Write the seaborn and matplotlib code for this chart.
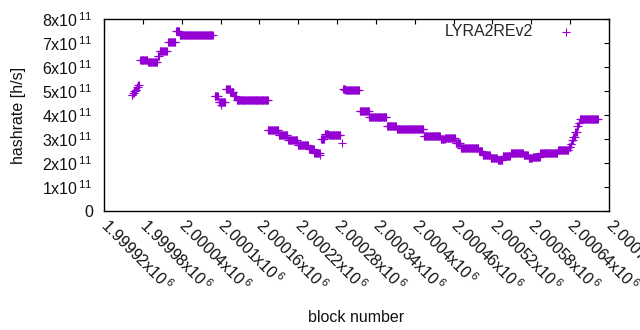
import numpy as np
import pandas as pd
import matplotlib
matplotlib.use('Agg')
import matplotlib.pyplot as plt
import seaborn as sns

run_start = [1999963, 1999965, 1999967, 1999969, 1999971, 1999973,
             1999976, 1999988, 2000003, 2000006, 2000019, 2000031, 2000037,
             2000091, 2000097, 2000100, 2000108, 2000115, 2000121, 2000125,
             2000173, 2000190, 2000204, 2000219, 2000236, 2000245, 2000254,
             2000255, 2000261, 2000267, 2000288, 2000289, 2000293, 2000315,
             2000330, 2000357, 2000372, 2000414, 2000440, 2000447, 2000463,
             2000471, 2000499, 2000505, 2000517, 2000528, 2000536, 2000548,
             2000568, 2000576, 2000582, 2000594, 2000621, 2000638, 2000641,
             2000643, 2000645, 2000648, 2000651, 2000653, 2000655]
run_end = [1999964, 1999966, 1999968, 1999970, 1999972, 1999974,
           1999987, 2000002, 2000005, 2000017, 2000030, 2000036, 2000088,
           2000096, 2000107, 2000100, 2000114, 2000120, 2000124, 2000173,
           2000189, 2000203, 2000218, 2000235, 2000244, 2000253, 2000254,
           2000260, 2000266, 2000285, 2000288, 2000292, 2000314, 2000329,
           2000356, 2000371, 2000413, 2000439, 2000446, 2000462, 2000470,
           2000498, 2000504, 2000516, 2000527, 2000535, 2000547, 2000567,
           2000575, 2000581, 2000593, 2000620, 2000637, 2000640, 2000642,
           2000644, 2000647, 2000650, 2000652, 2000654, 2000683]
run_rate = [4.85, 4.92, 5.0, 5.06, 5.15, 5.25,
            6.29, 6.2, 6.45, 6.67, 7.06, 7.5, 7.35,
            4.81, 4.54, 4.42, 5.08, 4.95, 4.78, 4.62,
            3.37, 3.17, 2.96, 2.75, 2.58, 2.42, 2.33,
            3.0, 3.22, 3.17, 2.83, 5.08, 5.04, 4.17,
            3.92, 3.54, 3.42, 3.12, 2.98, 3.06, 2.82,
            2.63, 2.5, 2.33, 2.2, 2.12, 2.3, 2.43,
            2.35, 2.22, 2.25, 2.4, 2.55, 2.67, 2.8,
            2.96, 3.1, 3.3, 3.54, 3.65, 3.82]

x_ticks = [1999920, 1999980, 2000040, 2000100, 2000160, 2000220, 2000280,
           2000340, 2000400, 2000460, 2000520, 2000580, 2000640, 2000700]
x_labels = ['1.99992', '1.99998', '2.00004', '2.0001', '2.00016', '2.00022', '2.00028',
            '2.00034', '2.0004', '2.00046', '2.00052', '2.00058', '2.00064', '2.0007']
y_ticks = [0, 1e11, 2e11, 3e11, 4e11, 5e11, 6e11, 7e11, 8e11]
y_labels = ['0', '1', '2', '3', '4', '5', '6', '7', '8']

blocks, rates = [], []
for s, e, r in zip(run_start, run_end, run_rate):
    for b in range(s, e + 1):
        blocks.append(b)
        rates.append(r * 1e11)
df = pd.DataFrame({'block': blocks, 'hashrate': rates})

sns.set_theme(style='white')
plt.rcParams['font.family'] = ['Liberation Sans', 'DejaVu Sans']
plt.rcParams['mathtext.fontset'] = 'custom'
plt.rcParams['mathtext.rm'] = 'Liberation Sans'
plt.rcParams['mathtext.it'] = 'Liberation Sans'

fig = plt.figure(figsize=(6.4, 3.3), dpi=100)
ax = fig.add_axes([104 / 640, 1 - 211 / 330, 505 / 640, 192 / 330])

sns.scatterplot(data=df, x='block', y='hashrate', marker='+', color='#9400d3',
                s=30, linewidth=0.8, ax=ax, label='LYRA2REv2', legend=False)

ax.set_xlim(1999920, 2000700)
ax.set_ylim(0, 8e11)
ax.set_xticks(x_ticks)
ax.set_xticklabels([l + r'x10$^{\,6}$' for l in x_labels], rotation=-45,
                   ha='left', va='center', rotation_mode='anchor', fontsize=11.5)
ax.set_yticks(y_ticks)
ax.set_yticklabels(['0'] + [l + r'x10$^{\,11}$' for l in y_labels[1:]], fontsize=11.5)

for sp in ax.spines.values():
    sp.set_color('black')
    sp.set_linewidth(1.0)
ax.tick_params(direction='in', length=3.5, width=0.8, color='black',
               top=True, right=True, labelcolor='#111111')
ax.tick_params(axis='y', pad=8)
ax.tick_params(axis='x', pad=8)

ax.set_xlabel('block number', fontsize=11.5, color='#111111')
ax.set_ylabel('hashrate [h/s]', fontsize=11.5, color='#111111')
ax.xaxis.set_label_coords(0.5, -0.515)
ax.yaxis.set_label_coords(-0.155, 0.5)

h, l = ax.get_legend_handles_labels()
ax.legend(h, l, loc='center right', bbox_to_anchor=(1 - 25 / 505, 1 - 13 / 192),
          frameon=False, markerfirst=False, fontsize=11.5, borderpad=0,
          borderaxespad=0, handletextpad=1.0, handlelength=2.2)

plt.savefig('out.png', dpi=100)
